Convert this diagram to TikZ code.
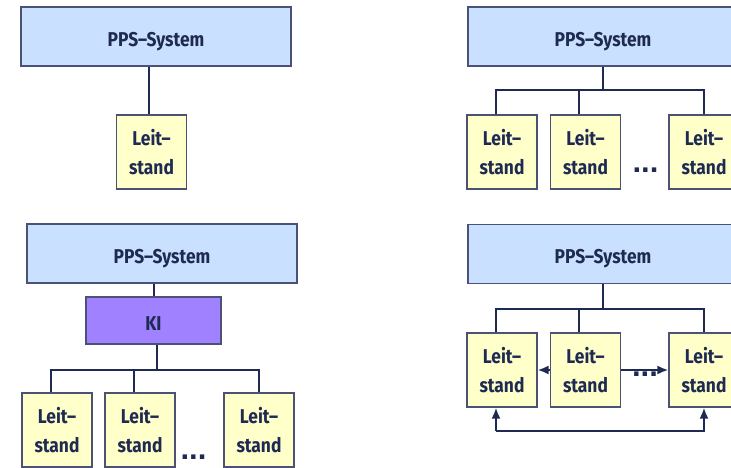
\documentclass[tikz,border=0pt]{standalone}
\usepackage{fontspec}
\setmainfont{Fira Sans}[FakeStretch=0.87]
\newfontfamily\dotfont{Liberation Sans}
\usetikzlibrary{arrows.meta}
\definecolor{navy}{HTML}{1E2A52}
\definecolor{ppsfill}{HTML}{C9E1FF}
\definecolor{leitfill}{HTML}{FFFFC9}
\definecolor{kifill}{HTML}{A081FF}
\definecolor{boxedge}{HTML}{4B5275}
\tikzset{
  x=1pt, y=-1pt,
  base/.style={draw=boxedge, line width=1.2pt, inner sep=0pt, text=navy,
    font=\fontsize{20}{29}\selectfont\bfseries, align=center, text depth=0pt},
  pps/.style={base, fill=ppsfill, minimum width=270pt, minimum height=59pt, text height=19.5pt},
  kibox/.style={base, fill=kifill, minimum width=135pt, minimum height=47pt, text height=19.5pt},
  leit/.style={base, fill=leitfill, minimum width=70pt, minimum height=74pt},
  wire/.style={draw=navy, line width=2pt},
  arr/.style={wire, -{Latex[length=11pt,width=9pt]}},
  dots/.style={text=navy, font=\dotfont\fontsize{31}{31}\selectfont\bfseries, inner sep=0pt}
}
\begin{document}
\begin{tikzpicture}
\useasboundingbox (0,0) rectangle (731,468);
\clip (0,0) rectangle (731,468);

% single control station
\node[pps]  (ppsA) at (156,36.5) {PPS–System};
\node[leit] (lA)   at (151.5,152) {Leit–\\stand};
\draw[wire] ([xshift=-3pt]lA.north) -- ([xshift=-3pt]lA.north |- ppsA.south);

% several control stations
\node[pps]  (ppsB) at (603,36.5) {PPS–System};
\node[leit] (lB1)  at (502,152) {Leit–\\stand};
\node[leit] (lB2)  at (585.5,152) {Leit–\\stand};
\node[leit] (lB3)  at (704,152) {Leit–\\stand};
\node[dots] (dB)   at (645.5,170) {...};
\coordinate (jB) at (603,90);
\draw[wire] (ppsB.south) -- (jB);
\draw[wire] ([xshift=-6pt]lB1.north) |- (jB) -| (lB3.north);
\draw[wire] ([xshift=-7pt]lB2.north) -- ([xshift=-7pt]lB2.north |- jB);

% control stations coordinated by KI
\node[pps]   (ppsC) at (162,253.5) {PPS–System};
\node[kibox] (ki)   at (153.5,320.5) {KI};
\node[leit]  (lC1)  at (57,430) {Leit–\\stand};
\node[leit]  (lC2)  at (140,430) {Leit–\\stand};
\node[leit]  (lC3)  at (259,430) {Leit–\\stand};
\node[dots]  (dC)   at (193.5,457) {...};
\coordinate (jC) at (157,370);
\draw[wire] (ppsC.south -| ki.north) -- (ki.north);
\draw[wire] ([xshift=3.5pt]ki.south) -- (jC);
\draw[wire] ([xshift=-6pt]lC1.north) |- (jC) -| (lC3.north);
\draw[wire] ([xshift=-6pt]lC2.north) -- ([xshift=-6pt]lC2.north |- jC);

% networked control stations
\node[pps]  (ppsD) at (603,254) {PPS–System};
\node[leit] (lD1)  at (502,370) {Leit–\\stand};
\node[leit] (lD2)  at (585.5,370) {Leit–\\stand};
\node[leit] (lD3)  at (704,370) {Leit–\\stand};
\node[dots] (dD)   at (645,374.5) {...};
\coordinate (jD) at (603,309);
\draw[wire] (ppsD.south) -- (jD);
\draw[wire] ([xshift=-6pt]lD1.north) |- (jD) -| (lD3.north);
\draw[wire] ([xshift=-7pt]lD2.north) -- ([xshift=-7pt]lD2.north |- jD);
\draw[arr] (lD2.west) -- (lD1.east);
\draw[arr] (lD2.east) -- (lD3.west);
\coordinate (loopL) at ([xshift=-6pt]lD1.south |- 0,431);
\draw[arr] (loopL) -- ([xshift=-6pt]lD1.south);
\draw[arr] (loopL) -| (lD3.south);
\end{tikzpicture}
\end{document}
